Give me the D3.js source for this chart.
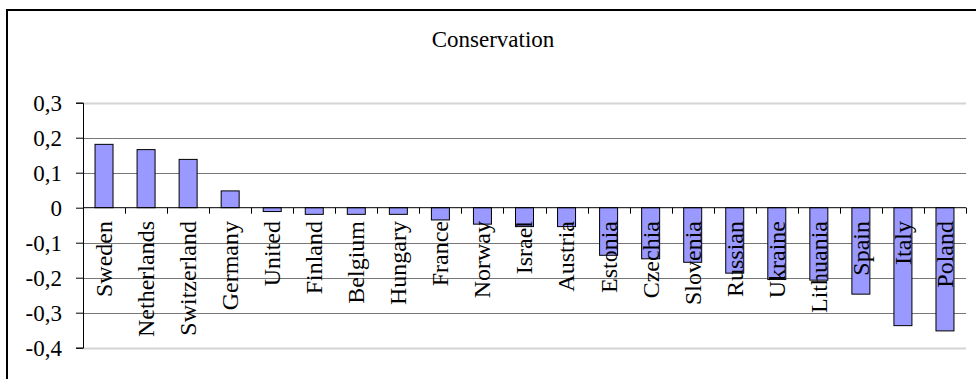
<!DOCTYPE html>
<html>
<head>
<meta charset="utf-8">
<script src="https://cdn.jsdelivr.net/npm/d3@7"></script>
<style>
  html, body { margin: 0; padding: 0; background: #fff; }
  svg { display: block; }
  text { font-family: "Liberation Serif", "Times New Roman", serif; fill: #000; }
</style>
</head>
<body>
<svg id="chart" width="976" height="379"></svg>
<script>
// Conservation scores by country
const countries = ["Sweden", "Netherlands", "Switzerland", "Germany", "United", "Finland",
  "Belgium", "Hungary", "France", "Norway", "Israel", "Austria", "Estonia", "Czechia",
  "Slovenia", "Russian", "Ukraine", "Lithuania", "Spain", "Italy", "Poland"];
const values = [0.181, 0.166, 0.138, 0.048, -0.011, -0.019, -0.019, -0.019, -0.035,
  -0.047, -0.054, -0.054, -0.136, -0.146, -0.156, -0.187, -0.205, -0.207, -0.247,
  -0.337, -0.352];
const yTicks = [0.3, 0.2, 0.1, 0, -0.1, -0.2, -0.3, -0.4];
const title = "Conservation";

const svg = d3.select("#chart");
const plotLeft = 83, plotRight = 966, plotTop = 102.7, plotBottom = 347.7;

const x = d3.scaleBand().domain(countries).range([plotLeft, plotRight]).paddingInner(0).paddingOuter(0);
const y = d3.scaleLinear().domain([-0.4, 0.3]).range([plotBottom, plotTop]);
const fmt = v => v === 0 ? "0" : d3.format(".1f")(v).replace(".", ",").replace("−", "-");

// outer frame
svg.append("rect").attr("x", 7).attr("y", 10).attr("width", 1000).attr("height", 400)
  .attr("fill", "none").attr("stroke", "#000").attr("stroke-width", 2);

// title
svg.append("text").attr("x", 493).attr("y", 47).attr("text-anchor", "middle")
  .attr("font-size", 23).text(title);

// horizontal gridlines (outermost ones form the plot area edge)
svg.append("g").selectAll("line").data(yTicks.filter(t => t !== 0)).join("line")
  .attr("x1", plotLeft).attr("x2", plotRight)
  .attr("y1", d => Math.round(y(d)) + 0.5).attr("y2", d => Math.round(y(d)) + 0.5)
  .attr("stroke", d => (d === 0.3 || d === -0.4) ? "#d4d4d4" : "#777")
  .attr("stroke-width", d => (d === 0.3 || d === -0.4) ? 2 : 1.2);

// bars
const bw = 18;
svg.append("g").selectAll("rect").data(countries).join("rect")
  .attr("x", (d) => x(d) + x.bandwidth() / 2 - bw / 2)
  .attr("y", (d, i) => y(Math.max(0, values[i])))
  .attr("width", bw)
  .attr("height", (d, i) => Math.abs(y(values[i]) - y(0)))
  .attr("fill", "#9999ff").attr("stroke", "#000").attr("stroke-width", 1);

// y axis
const yAxis = d3.axisLeft(y).tickValues(yTicks).tickSize(7).tickFormat(fmt);
const gy = svg.append("g").attr("transform", `translate(${plotLeft},0)`).call(yAxis);
gy.select(".domain").attr("stroke", "#000");
gy.selectAll(".tick line").attr("stroke", "#000");
gy.selectAll(".tick text").attr("font-size", 23).attr("x", -21)
  .attr("font-family", "Liberation Serif, Times New Roman, serif").attr("fill", "#000");

// category axis at zero with boundary ticks
svg.append("line").attr("x1", plotLeft).attr("x2", plotRight).attr("y1", y(0)).attr("y2", y(0))
  .attr("stroke", "#000").attr("stroke-width", 1);
const bounds = countries.map(c => x(c)).concat([plotRight]);
svg.append("g").selectAll("line").data(bounds).join("line")
  .attr("x1", d => Math.round(d) + 0.5).attr("x2", d => Math.round(d) + 0.5)
  .attr("y1", y(0)).attr("y2", y(0) + 6).attr("stroke", "#000");

// rotated category labels
svg.append("g").selectAll("text").data(countries).join("text")
  .attr("transform", d => `translate(${x(d) + x.bandwidth() / 2},221) rotate(-90)`)
  .attr("text-anchor", "end").attr("dy", "0.33em")
  .attr("font-size", 24).text(d => d);
</script>
</body>
</html>
